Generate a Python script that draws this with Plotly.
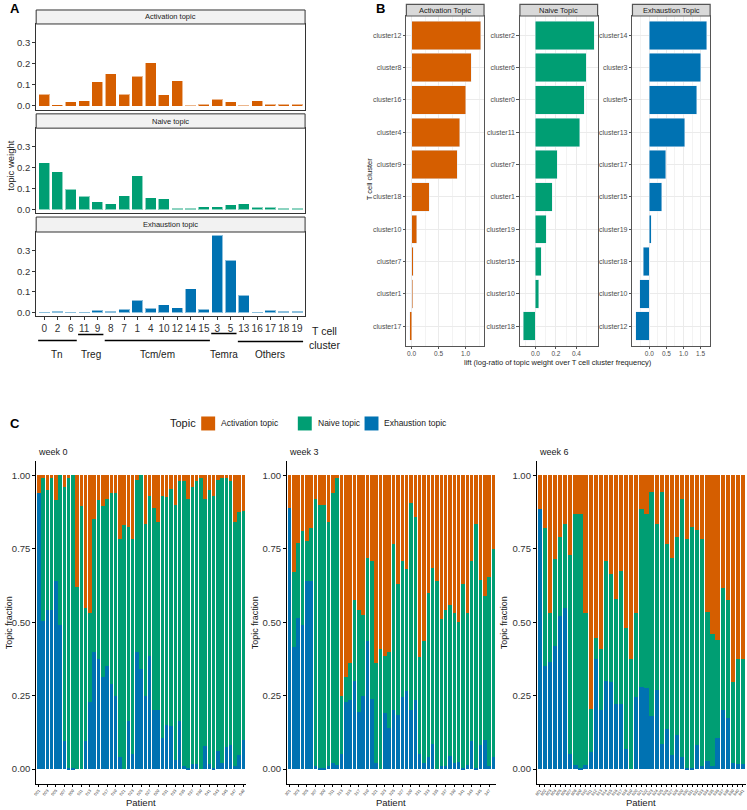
import plotly.graph_objects as go

W, H = 747, 810
ORANGE, GREEN, BLUE = "#D55E00", "#009E73", "#0072B2"
FONT = "Liberation Sans, Arial, sans-serif"

# ---- Panel A: topic weight per T cell cluster -------------------------------
clusters_a = ["0", "2", "6", "11", "9", "8", "7", "1", "4", "10",
              "12", "14", "15", "3", "5", "13", "16", "17", "18", "19"]
activation_w = [0.053, 0.003, 0.018, 0.023, 0.113, 0.152, 0.053, 0.139, 0.203, 0.050,
                0.117, 0.002, 0.005, 0.030, 0.017, 0.002, 0.022, 0.006, 0.006, 0.005]
naive_w = [0.222, 0.177, 0.094, 0.060, 0.034, 0.023, 0.063, 0.158, 0.052, 0.047,
           0.001, 0.001, 0.010, 0.010, 0.018, 0.023, 0.006, 0.006, 0.003, 0.003]
exhaustion_w = [0.001, 0.003, 0.002, 0.002, 0.008, 0.003, 0.013, 0.058, 0.019, 0.035,
                0.021, 0.112, 0.013, 0.372, 0.252, 0.080, 0.002, 0.008, 0.003, 0.003]
# cell-type groups: (label, first cluster, last cluster)
groups_a = [("Tn", "0", "6"), ("Treg", "11", "9"), ("Tcm/em", "8", "15"),
            ("Temra", "3", "5"), ("Others", "13", "19")]

# ---- Panel B: lift per cluster ----------------------------------------------
act_clusters = ["cluster12", "cluster8", "cluster16", "cluster4", "cluster9",
                "cluster18", "cluster10", "cluster7", "cluster1", "cluster17"]
act_lift = [1.276, 1.10, 1.006, 0.896, 0.847, 0.325, 0.098, 0.03, 0.018, -0.03]
naive_clusters = ["cluster2", "cluster6", "cluster0", "cluster11", "cluster7",
                  "cluster1", "cluster19", "cluster15", "cluster10", "cluster18"]
naive_lift = [0.572, 0.494, 0.475, 0.432, 0.211, 0.166, 0.104, 0.055, 0.033, -0.117]
exh_clusters = ["cluster14", "cluster3", "cluster5", "cluster13", "cluster17",
                "cluster15", "cluster19", "cluster18", "cluster10", "cluster12"]
exh_lift = [1.675, 1.50, 1.39, 1.04, 0.477, 0.36, 0.05, -0.185, -0.28, -0.39]

# ---- Panel C: topic fraction per patient ------------------------------------
# exhaustion fraction (bottom) and exhaustion+naive cumulative (top of green)
w0_exh = [0.94, 0.505, 0.54, 0.54, 0.64, 0.49, 0.097, 0.003, 0.002, 0, 0, 0.097, 0.23,
          0.40, 0.375, 0.315, 0.35, 0.29, 0.25, 0.04, 0, 0.165, 0.05, 0.40, 0.34, 0.25,
          0.385, 0.20, 0.20, 0.105, 0.15, 0.145, 0.03, 0.165, 0.012, 0.005, 0.017, 0.017,
          0, 0.077, 0.017, 0.005, 0.06, 0.022, 0.075, 0.083, 0.01, 0.048, 0.10]
w0_cum = [0.94, 0.995, 0.95, 0.99, 0.915, 1.0, 0.96, 0.99, 1.0, 0.62, 0.895, 0.55, 0.53,
          0.85, 0.915, 0.895, 0.92, 0.94, 0.94, 0.785, 0.83, 0.825, 0.785, 0.985, 1.0,
          0.835, 0.93, 0.89, 0.84, 0.93, 0.925, 0.955, 0.90, 0.98, 0.98, 0.92, 0.96, 0.98,
          0.995, 0.92, 0.95, 0.93, 0.985, 0.995, 0.995, 0.98, 0.84, 0.875, 0.88]
w3_exh = [0.89, 0.415, 0.515, 0.49, 0.64, 0.64, 0.012, 0.005, 0.003, 0.01, 0.02, 0.015,
          0.05, 0.23, 0.235, 0.30, 0.195, 0.25, 0.435, 0.24, 0.02, 0, 0.19, 0.14, 0.20,
          0.185, 0.245, 0.265, 0.20, 0.235, 0.05, 0.02, 0.04, 0.085, 0, 0.012, 0.012,
          0.045, 0.02, 0.025, 0.003, 0.015, 0.097, 0.003, 0.083, 0.10, 0.012, 0.04]
w3_cum = [0.89, 0.67, 0.77, 0.81, 0.775, 0.82, 0.92, 0.90, 0.90, 0.84, 0.94, 0.99, 0.25,
          0.315, 0.36, 0.575, 0.54, 0.525, 0.72, 0.71, 0.36, 0.41, 0.385, 0.40, 0.765,
          0.63, 0.71, 0.68, 0.905, 0.86, 0.38, 0.435, 0.60, 0.685, 0.64, 0.51, 0.54, 0.56,
          0.53, 0.50, 0.63, 0.53, 0.71, 0.835, 0.645, 0.59, 0.655, 0.75]
w6_exh = [0.885, 0.35, 0.365, 0.42, 0.52, 0.55, 0.05, 0.013, 0.002, 0.015, 0.057, 0.375,
          0.20, 0.30, 0.295, 0.22, 0.22, 0.068, 0, 0.245, 0.28, 0.275, 0.18, 0.27, 0.085,
          0.135, 0.047, 0.115, 0.04, 0.005, 0.005, 0.082, 0.012, 0.028, 0.012, 0.105,
          0.20, 0.175, 0.02, 0.018, 0.017]
w6_cum = [0.885, 0.82, 0.53, 0.715, 0.79, 0.835, 0.73, 0.87, 0.87, 0.53, 0.205, 0.445,
          0.41, 0.71, 0.665, 0.58, 0.675, 0.48, 0.375, 0.53, 0.885, 0.87, 0.945, 0.835,
          0.945, 0.765, 0.72, 0.79, 0.92, 0.785, 0.825, 0.815, 0.785, 0.535, 0.46, 0.44,
          0.615, 0.575, 0.295, 0.375, 0.375]
weeks = ["week 0", "week 3", "week 6"]


def xdom(a, b):
    return [a / W, b / W]


def ydom(top, bottom):
    return [1 - bottom / H, 1 - top / H]


def px(x):
    return x / W


def py(y):
    return 1 - y / H


fig = go.Figure()
layout = dict(width=W, height=H, margin=dict(l=0, r=0, t=0, b=0),
              paper_bgcolor="white", plot_bgcolor="white", barmode="stack",
              showlegend=False, font=dict(family=FONT, color="#1A1A1A"))
shapes, annos = [], []


def text(x, y, s, size, color="#1A1A1A", xanchor="center", yanchor="middle", **kw):
    annos.append(dict(x=px(x), y=py(y), xref="paper", yref="paper", text=s,
                      showarrow=False, xanchor=xanchor, yanchor=yanchor,
                      font=dict(size=size, color=color, family=FONT), **kw))


# ---------------- Panel A ----------------
a_left, a_right = 33.3, 303.3
a_rows = [(10, 24, 110), (114, 128.3, 213.3), (217.3, 232.3, 316.7)]
a_series = [("Activation topic", activation_w, ORANGE, "rgba(213,94,0,0.45)"),
            ("Naive topic", naive_w, GREEN, "rgba(0,158,115,0.45)"),
            ("Exhaustion topic", exhaustion_w, BLUE, "rgba(0,114,178,0.45)")]
ymax_a = max(max(activation_w), max(naive_w), max(exhaustion_w))
for i, ((name, vals, col, edge), (st, top, bot)) in enumerate(zip(a_series, a_rows)):
    n = i + 1
    xa, ya = ("x" if n == 1 else f"x{n}"), ("y" if n == 1 else f"y{n}")
    fig.add_trace(go.Bar(x=clusters_a, y=vals, marker_color=col, width=0.75,
                         marker_line=dict(color=edge, width=1),
                         xaxis=xa, yaxis=ya))
    layout[f"xaxis{'' if n == 1 else n}"] = dict(
        domain=xdom(a_left, a_right), anchor=ya, type="category",
        categoryarray=clusters_a, range=[-0.6, len(clusters_a) - 0.4],
        showline=True, mirror=True, linecolor="#333333", linewidth=1,
        showgrid=False, showticklabels=(n == 3), ticks="outside" if n == 3 else "",
        ticklen=3, tickcolor="#333333", tickangle=0,
        tickfont=dict(size=10, color="#333333"))
    layout[f"yaxis{'' if n == 1 else n}"] = dict(
        domain=ydom(top, bot), anchor=xa, range=[-0.05 * ymax_a, 1.05 * ymax_a],
        tickvals=[0, 0.1, 0.2, 0.3], ticktext=["0.0", "0.1", "0.2", "0.3"],
        showline=True, mirror=True, linecolor="#333333", linewidth=1, showgrid=False,
        zeroline=False, ticks="outside", ticklen=3, tickcolor="#333333",
        tickfont=dict(size=9.5, color="#333333"))
    shapes.append(dict(type="rect", xref="paper", yref="paper", x0=px(a_left), x1=px(a_right),
                       y0=py(top), y1=py(st), fillcolor="#F2F2F2",
                       line=dict(color="#333333", width=1)))
    text((a_left + a_right) / 2, (st + top) / 2, name, 7.5)

text(8, 165, "topic weight", 9.5, color="#1A1A1A", textangle=-90)
text(305, 338, "T cell<br>cluster", 10.5, xanchor="left")
text(5, 9, "<b>A</b>", 13, color="black", xanchor="left")

group_y = [341, 335, 341, 334, 342]
for (lab, c0, c1), gy in zip(groups_a, group_y):
    i0, i1 = clusters_a.index(c0), clusters_a.index(c1)
    shapes.append(dict(type="line", xref="x3", yref="paper", x0=i0 - 0.45, x1=i1 + 0.45,
                       y0=py(gy), y1=py(gy), line=dict(color="black", width=1.5)))
    annos.append(dict(x=(i0 + i1) / 2, y=py(355), xref="x3", yref="paper", text=lab,
                      showarrow=False, font=dict(size=10, color="#1A1A1A", family=FONT)))

# ---------------- Panel B ----------------
b_cols = [(405, 483), (519, 597), (632, 710)]
b_top_strip, b_top, b_bot = 4.3, 16, 346
b_series = [("Activation Topic", act_clusters, act_lift, ORANGE, 0.25, [0, 0.5, 1.0]),
            ("Naive Topic", naive_clusters, naive_lift, GREEN, 0.1, [0, 0.2, 0.4]),
            ("Exhaustion Topic", exh_clusters, exh_lift, BLUE, 0.25, [0, 0.5, 1.0, 1.5])]
for j, ((name, cl, vals, col, mdt, tv), (l, r)) in enumerate(zip(b_series, b_cols)):
    n = 4 + j
    fig.add_trace(go.Bar(x=vals, y=cl, orientation="h", marker_color=col, width=0.88,
                         xaxis=f"x{n}", yaxis=f"y{n}"))
    lo, hi = min(0, min(vals)), max(vals)
    pad = 0.05 * (hi - lo)
    layout[f"xaxis{n}"] = dict(
        domain=xdom(l, r), anchor=f"y{n}", range=[lo - pad, hi + pad],
        tickvals=tv, ticktext=[f"{v:.1f}" for v in tv], showline=True, mirror=True,
        linecolor="#555555", linewidth=1.2, showgrid=True, gridcolor="#EBEBEB",
        gridwidth=0.8, zeroline=False, ticks="outside", ticklen=2, tickcolor="#555555",
        minor=dict(dtick=mdt, tick0=0, showgrid=True, gridcolor="#F3F3F3", gridwidth=0.5),
        tickfont=dict(size=6.5, color="#4D4D4D"))
    layout[f"yaxis{n}"] = dict(
        domain=ydom(b_top, b_bot), anchor=f"x{n}", type="category",
        categoryarray=list(reversed(cl)), range=[-0.6, len(cl) - 0.4],
        showline=True, mirror=True, linecolor="#555555", linewidth=1.2,
        showgrid=True, gridcolor="#EBEBEB", gridwidth=0.8, ticks="outside", ticklen=2.5,
        tickcolor="#555555", tickfont=dict(size=7, color="#4D4D4D"))
    shapes.append(dict(type="rect", xref="paper", yref="paper", x0=px(l), x1=px(r),
                       y0=py(b_top), y1=py(b_top_strip), fillcolor="#D9D9D9",
                       line=dict(color="#555555", width=1.2)))
    text((l + r) / 2, (b_top_strip + b_top) / 2, name, 7.5)

text(557, 363, "lift (log-ratio of topic weight over T cell cluster frequency)", 7.5)
text(368, 180, "T cell cluster", 7.5, textangle=-90)
text(372, 9, "<b>B</b>", 13, color="black", xanchor="left")

# ---------------- Panel C ----------------
c_cols = [(33.4, 244), (285, 495), (536, 746)]
c_ytitle = [6, 253, 503]
c_data = [(w0_exh, w0_cum), (w3_exh, w3_cum), (w6_exh, w6_cum)]
c_top, c_bot = 461.3, 784.7
for k, ((exh, cum), (l, r), wk, yt) in enumerate(zip(c_data, c_cols, weeks, c_ytitle)):
    n = 7 + k
    pats = [f"{wk[-1]}{i + 1:02d}" for i in range(len(exh))]
    naive = [c - e for c, e in zip(cum, exh)]
    act = [1 - c for c in cum]
    for vals, col, nm in [(exh, BLUE, "Exhaustion topic"), (naive, GREEN, "Naive topic"),
                          (act, ORANGE, "Activation topic")]:
        fig.add_trace(go.Bar(x=pats, y=vals, marker_color=col, width=0.82, name=nm,
                             marker_line_width=0, xaxis=f"x{n}", yaxis=f"y{n}"))
    layout[f"xaxis{n}"] = dict(
        domain=xdom(l, r), anchor=f"y{n}", type="category", categoryarray=pats,
        range=[-0.6, len(pats) - 0.4], showline=True, linecolor="black", linewidth=1,
        showgrid=False, ticks="outside", ticklen=2, tickcolor="black", tickangle=-50,
        tickfont=dict(size=4, color="#333333"))
    layout[f"yaxis{n}"] = dict(
        domain=ydom(c_top, c_bot), anchor=f"x{n}", range=[-0.05, 1.05],
        tickvals=[0, 0.25, 0.5, 0.75, 1], ticktext=["0.00", "0.25", "0.50", "0.75", "1.00"],
        showline=True, linecolor="black", linewidth=1, showgrid=False, zeroline=False,
        ticks="outside", ticklen=3, tickcolor="black", tickfont=dict(size=9.5, color="#333333"))
    text(yt, (c_top + c_bot) / 2, "Topic fraction", 9, textangle=-90)
    text((l + r) / 2, 803, "Patient", 9.5)
    text(l, 453, wk, 9, xanchor="left")

text(5, 424, "<b>C</b>", 13, color="black", xanchor="left")
# legend
text(196, 424, "Topic", 11, xanchor="right")
leg = [("Activation topic", ORANGE, 199), ("Naive topic", GREEN, 296),
       ("Exhaustion topic", BLUE, 363)]
for lab, col, x0 in leg:
    shapes.append(dict(type="rect", xref="paper", yref="paper", x0=px(x0), x1=px(x0 + 14),
                       y0=py(431), y1=py(417), fillcolor=col, line=dict(width=0)))
    text(x0 + 18, 424, lab, 8.5, xanchor="left")

layout["shapes"] = shapes
layout["annotations"] = annos
fig.update_layout(**layout)
fig.write_html("out.html", config={"displayModeBar": False},
               post_script="document.body.style.margin='0px';")
